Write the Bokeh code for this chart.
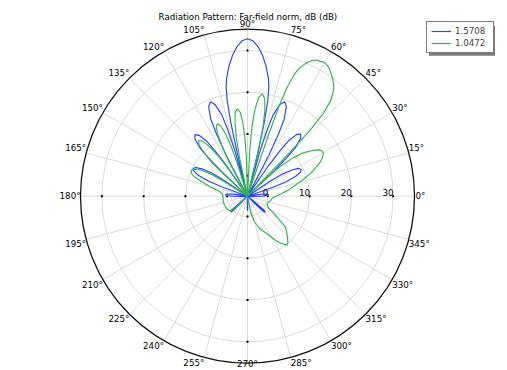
import numpy as np
from bokeh.plotting import figure
from bokeh.models import Range1d, Legend, LegendItem
from bokeh.embed import file_html
from bokeh.resources import INLINE
from bokeh.core.properties import value

# ---------------- data ----------------
title_text = "Radiation Pattern: Far-field norm, dB (dB)"
series_names = ["1.5708", "1.0472"]

blue_angle = [0, 2, 4, 6, 8, 9, 10,
              18.5, 19.5, 20.5, 22.5, 24.5, 26.5, 28.5, 30.5, 32.5, 33.5, 34.5,
              42.5, 43.5, 44.5, 45.5, 47.5, 49.5, 51.5, 53.5, 54.5, 55.5, 56.5,
              61.5, 62.5, 63.5, 64.5, 66.5, 68.5, 70.5, 72.5, 73.5, 74.5, 75.5,
              76.4, 76.7, 77.2, 78, 79, 80, 82, 84, 86, 88, 90, 92, 94, 96, 98,
              100, 101, 102, 102.8, 103.3, 103.6,
              104.5, 105.5, 106.5, 107.5, 109.5, 111.5, 113.5, 115.5, 116.5, 117.5, 118.5,
              123.5, 124.5, 125.5, 126.5, 128.5, 130.5, 132.5, 134.5, 135.5, 136.5, 137.5,
              145, 146, 147, 149, 151, 153, 155, 157, 159, 160, 161,
              170, 171, 172, 174, 176, 178, 180, 181, 182,
              219, 220, 221.5, 223, 224.5, 226, 227,
              268, 269, 270, 271, 272,
              314, 315, 316.5, 318, 319.5, 321, 322,
              358, 359, 360]
blue_db = [-1.44, -0.03, 0.16, -0.03, -1.44, -2.59, -4.87,
           -4.87, 1.6, 4.9, 7.63, 9.07, 9.5, 9.07, 7.63, 4.9, 1.6, -4.87,
           -4.87, 3.97, 8.49, 11.63, 13.98, 14.77, 13.98, 11.63, 8.49, 3.97, -4.87,
           -4.87, 6.08, 11.66, 15.56, 18.46, 19.44, 18.46, 15.56, 11.66, 6.08, -4.87,
           -4.87, 5.91, 13.09, 18.60, 21.96, 23.87, 26.75, 29.14, 31.06, 32.38, 32.83, 32.38, 31.06, 29.14, 26.75,
           23.87, 21.96, 18.60, 13.09, 5.91, -4.87,
           -4.87, 6.08, 11.66, 15.56, 18.46, 19.44, 18.46, 15.56, 11.66, 6.08, -4.87,
           -4.87, 3.87, 8.33, 11.42, 13.76, 14.53, 13.76, 11.42, 8.33, 3.87, -4.87,
           -4.87, 1.72, 5.07, 7.85, 9.31, 9.74, 9.31, 7.85, 5.07, 1.72, -4.87,
           -4.87, -2.47, -1.28, 0.18, 0.40, 0.18, -1.28, -2.47, -4.87,
           -4.87, -2.4, 0.2, 0.64, 0.2, -2.4, -4.87,
           -4.87, -2.0, -1.40, -2.0, -4.87,
           -4.87, -2.3, 0.5, 0.88, 0.5, -2.3, -4.87,
           -4.87, -2.59, -1.44]

green_angle = [0, 1, 5, 9, 13, 17, 21, 25, 27, 28.5, 30, 31.5, 33, 35, 38, 40, 42, 43.5, 44.5,
               45.5, 46, 46.5, 47.5, 49, 51, 52.5, 54, 55.5, 57, 58, 59.5, 60.5, 62, 63, 64, 65, 66,
               67.7, 68.4, 69, 70, 70.7, 71.1, 71.5,
               75.8, 76.4, 77.3, 78.5, 80, 81.8, 83.6, 85.1, 86.3, 87.2, 87.8,
               91.2, 91.7, 92.6, 93.7, 95, 96.7, 98.4, 99.7, 100.8, 101.7, 102.2,
               106.7, 107.3, 108.2, 109.4, 110.9, 112.7, 114.5, 116, 117.2, 118.1, 118.7,
               124.2, 125, 126, 127.5, 129.2, 131.2, 133.2, 134.9, 136.4, 137.4, 138.2,
               146.5, 147.5, 148.5, 150.5, 153, 155.5, 158, 160.5, 163, 166, 170, 175,
               185, 195, 205, 212, 217, 221, 224, 226,
               278, 281, 284.5, 290, 297.6, 303, 306.1, 309, 311, 316, 320.8, 324.7, 328, 331, 334.7,
               340, 345, 349, 353, 357, 360]
green_db = [1.99, 2.20, 3.51, 5.19, 6.87, 9.26, 11.90, 14.29, 15.20, 15.75, 16.09, 15.95, 15.50, 14.29, 11.90, 9.50, 6.15, 2.32, -4.87,
            -4.87, 9.50, 16.69, 21.96, 25.55, 27.94, 29.00, 29.86, 30.58, 31.30, 31.66, 32.02, 32.02, 31.78, 31.73, 31.30, 30.82, 30.10,
            28.54, 27.47, 26.27, 22.91, 17.88, 9.50, -4.87,
            -4.87, 6.27, 11.97, 15.94, 18.91, 19.90, 18.91, 15.94, 11.97, 6.27, -4.87,
            -4.87, 4.61, 9.45, 12.83, 15.37, 16.21, 15.37, 12.83, 9.45, 4.61, -4.87,
            -4.87, 3.59, 7.92, 10.91, 13.19, 13.93, 13.19, 10.91, 7.92, 3.59, -4.87,
            -4.87, 3.11, 7.18, 10.03, 12.14, 12.86, 12.14, 10.03, 7.18, 3.11, -4.87,
            -4.87, 1.8, 5.0, 8.0, 9.4, 9.98, 9.6, 8.3, 6.0, 4.3, 2.0, 1.1,
            1.0, 1.1, 1.0, 0.9, 0.76, 0.3, -1.5, -4.87,
            -4.87, -1.0, 1.14, 3.3, 5.29, 8.0, 9.24, 10.2, 9.9, 8.3, 6.87, 3.85, 2.0, 0.9, 0.35,
            0.16, 0.40, 0.76, 0.88, 1.36, 1.99]

radial_ticks = [0, 10, 20, 30]
angle_ticks = list(range(0, 360, 15))
r_min = -4.87
r_max = 35.13

# ---------------- layout ----------------
W, H = 507, 370
PX = 4.175                 # pixels per dB
CX, CY = 247.0, 195.7      # centre in canvas pixels
R_OUT = r_max - r_min

p = figure(width=W, height=H, output_backend="svg", toolbar_location=None,
           x_range=Range1d(-CX / PX, (W - CX) / PX),
           y_range=Range1d(-(H - CY) / PX, CY / PX),
           min_border=0, outline_line_color=None,
           background_fill_color="white", border_fill_color="white")
p.axis.visible = False
p.grid.visible = False

FONT = "DejaVu Sans"
FS = "8.7px"
GRID = "#dadada"

# spokes
th = np.deg2rad(angle_ticks)
p.segment(x0=0, y0=0, x1=list(R_OUT * np.cos(th)), y1=list(R_OUT * np.sin(th)),
          line_color=GRID, line_width=1)
# grid circles
p.circle(x=[0] * len(radial_ticks), y=[0] * len(radial_ticks),
         radius=[t - r_min for t in radial_ticks],
         fill_color=None, line_color=GRID, line_width=1)
# outer circle
p.circle(x=[0], y=[0], radius=[R_OUT], fill_color=None, line_color="#111111", line_width=1.3)

# tick dots on the axes
dx, dy = [], []
for t in radial_ticks:
    rr = t - r_min
    for a in (0, 90, 180, 270):
        dx.append(rr * np.cos(np.deg2rad(a)))
        dy.append(rr * np.sin(np.deg2rad(a)))
p.scatter(x=dx, y=dy, size=2, marker="square", fill_color="black", line_color=None)

# curves
def polar_xy(ang, db):
    r = np.clip(np.array(db) - r_min, 0, None)
    a = np.deg2rad(np.array(ang))
    return list(r * np.cos(a)), list(r * np.sin(a))

bx, by = polar_xy(blue_angle, blue_db)
gx, gy = polar_xy(green_angle, green_db)
rb = p.line(bx, by, line_color="#2446ff", line_width=1.15)
rg = p.line(gx, gy, line_color="#33b44a", line_width=1.15)

# angle labels
groups = {}
up = 4.8 / PX
for a in angle_ticks:
    if a == 0:
        key = ("left", "middle"); off = (1.0 / PX, 0)
    elif a == 180:
        key = ("right", "middle"); off = (0, 0)
    elif a == 90:
        key = ("center", "alphabetic"); off = (0, up)
    elif a == 270:
        key = ("center", "top"); off = (0, 4.0 / PX)
    elif a < 90:
        key = ("left", "alphabetic"); off = (0, up)
    elif a < 180:
        key = ("right", "alphabetic"); off = (0, up)
    elif a < 270:
        key = ("right", "top"); off = (0, 0)
    else:
        key = ("left", "top"); off = (0, 0)
    g = groups.setdefault(key, {"x": [], "y": [], "t": []})
    g["x"].append(R_OUT * np.cos(np.deg2rad(a)) + off[0])
    g["y"].append(R_OUT * np.sin(np.deg2rad(a)) + off[1])
    g["t"].append(f"{a}\u00b0")
for (al, bl), g in groups.items():
    p.text(x=g["x"], y=g["y"], text=g["t"], text_align=al, text_baseline=bl,
           text_font=value(FONT), text_font_size=FS, text_color="black")

# radial labels
p.text(x=[t - r_min + 0.5 / PX for t in radial_ticks], y=[4.2 / PX] * len(radial_ticks),
       text=[str(t) for t in radial_ticks], text_align="right", text_baseline="alphabetic",
       text_font=value(FONT), text_font_size=FS, text_color="black")

# title
p.text(x=[0.1], y=[(CY - 16.6) / PX], text=[title_text], text_align="center",
       text_baseline="middle", text_font=value(FONT), text_font_size=FS, text_color="black")

# legend and its drop shadow (page px -> data)
def to_data(px, py):
    return (px - CX) / PX, (CY - py) / PX
lw, lh = 66, 30
l0, t0 = 426, 22.7
sx0, sy0 = to_data(l0 + 2.5, t0 + lh + 2.5)
sx1, sy1 = to_data(l0 + lw + 2.5, t0 + 2.5)
p.quad(left=[sx0], right=[sx1], bottom=[sy0], top=[sy1], fill_color="#7a7a7a",
       line_color=None)

legend = Legend(items=[LegendItem(label=series_names[0], renderers=[rb]),
                       LegendItem(label=series_names[1], renderers=[rg])],
                location=(l0, H - (t0 + lh)),
                padding=4, spacing=2, margin=0,
                glyph_width=20, glyph_height=10, label_height=10, label_width=34,
                label_standoff=4,
                label_text_font=FONT, label_text_font_size=FS,
                border_line_color="black", border_line_width=1,
                background_fill_color="white", background_fill_alpha=1.0)
p.add_layout(legend)

open("out.html", "w").write(file_html(p, INLINE))
